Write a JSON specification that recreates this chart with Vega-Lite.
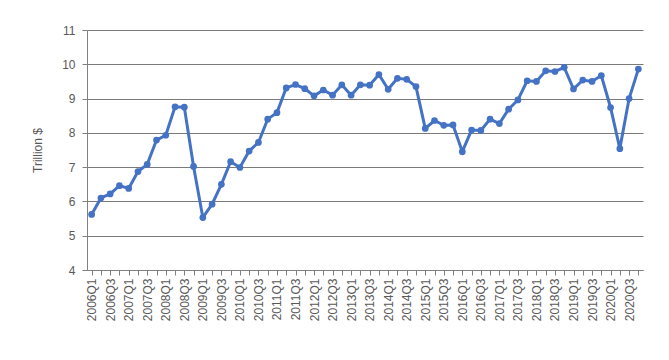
{
  "$schema": "https://vega.github.io/schema/vega-lite/v6.json",
  "width": 556,
  "height": 240,
  "autosize": {"type": "none"},
  "padding": {"left": 87, "top": 30, "right": 26, "bottom": 90},
  "background": "white",
  "config": {"view": {"stroke": null}, "font": "Liberation Sans"},
  "data": {"values": [
    {"q": "2006Q1", "v": 5.62}, {"q": "2006Q2", "v": 6.10}, {"q": "2006Q3", "v": 6.22}, {"q": "2006Q4", "v": 6.46},
    {"q": "2007Q1", "v": 6.38}, {"q": "2007Q2", "v": 6.87}, {"q": "2007Q3", "v": 7.08}, {"q": "2007Q4", "v": 7.79},
    {"q": "2008Q1", "v": 7.93}, {"q": "2008Q2", "v": 8.76}, {"q": "2008Q3", "v": 8.75}, {"q": "2008Q4", "v": 7.02},
    {"q": "2009Q1", "v": 5.53}, {"q": "2009Q2", "v": 5.92}, {"q": "2009Q3", "v": 6.50}, {"q": "2009Q4", "v": 7.16},
    {"q": "2010Q1", "v": 6.99}, {"q": "2010Q2", "v": 7.47}, {"q": "2010Q3", "v": 7.72}, {"q": "2010Q4", "v": 8.40},
    {"q": "2011Q1", "v": 8.59}, {"q": "2011Q2", "v": 9.31}, {"q": "2011Q3", "v": 9.41}, {"q": "2011Q4", "v": 9.29},
    {"q": "2012Q1", "v": 9.08}, {"q": "2012Q2", "v": 9.25}, {"q": "2012Q3", "v": 9.10}, {"q": "2012Q4", "v": 9.40},
    {"q": "2013Q1", "v": 9.10}, {"q": "2013Q2", "v": 9.40}, {"q": "2013Q3", "v": 9.39}, {"q": "2013Q4", "v": 9.70},
    {"q": "2014Q1", "v": 9.27}, {"q": "2014Q2", "v": 9.59}, {"q": "2014Q3", "v": 9.56}, {"q": "2014Q4", "v": 9.35},
    {"q": "2015Q1", "v": 8.13}, {"q": "2015Q2", "v": 8.36}, {"q": "2015Q3", "v": 8.22}, {"q": "2015Q4", "v": 8.23},
    {"q": "2016Q1", "v": 7.45}, {"q": "2016Q2", "v": 8.08}, {"q": "2016Q3", "v": 8.07}, {"q": "2016Q4", "v": 8.40},
    {"q": "2017Q1", "v": 8.27}, {"q": "2017Q2", "v": 8.69}, {"q": "2017Q3", "v": 8.96}, {"q": "2017Q4", "v": 9.52},
    {"q": "2018Q1", "v": 9.50}, {"q": "2018Q2", "v": 9.81}, {"q": "2018Q3", "v": 9.79}, {"q": "2018Q4", "v": 9.91},
    {"q": "2019Q1", "v": 9.28}, {"q": "2019Q2", "v": 9.54}, {"q": "2019Q3", "v": 9.50}, {"q": "2019Q4", "v": 9.67},
    {"q": "2020Q1", "v": 8.74}, {"q": "2020Q2", "v": 7.54}, {"q": "2020Q3", "v": 9.00}, {"q": "2020Q4", "v": 9.86}
  ]},
  "mark": {"type": "line", "color": "#4472C4", "strokeWidth": 3, "point": {"filled": true, "size": 45, "color": "#4472C4"}},
  "encoding": {
    "x": {
      "field": "q", "type": "ordinal", "sort": null,
      "scale": {"type": "point", "padding": 0.5},
      "axis": {
        "title": null, "labelAngle": -90, "labelOverlap": false,
        "labelExpr": "indexof(datum.value, 'Q1') > 0 || indexof(datum.value, 'Q3') > 0 ? datum.value : ''",
        "labelFontSize": 12, "labelColor": "#595959", "labelPadding": 3,
        "domainColor": "#808080", "tickColor": "#808080", "tickSize": 5, "grid": false
      }
    },
    "y": {
      "field": "v", "type": "quantitative",
      "scale": {"domain": [4, 11], "nice": false, "zero": false},
      "axis": {
        "title": "Trillion $", "titleFontSize": 12, "titleFontWeight": "normal", "titleColor": "#595959", "titlePadding": 17,
        "values": [4, 5, 6, 7, 8, 9, 10, 11], "labelFontSize": 12, "labelColor": "#595959", "labelPadding": 7,
        "tickSize": 5, "tickColor": "#808080", "domainColor": "#808080",
        "gridColor": "#7a7a7a", "gridWidth": 1
      }
    }
  }
}
